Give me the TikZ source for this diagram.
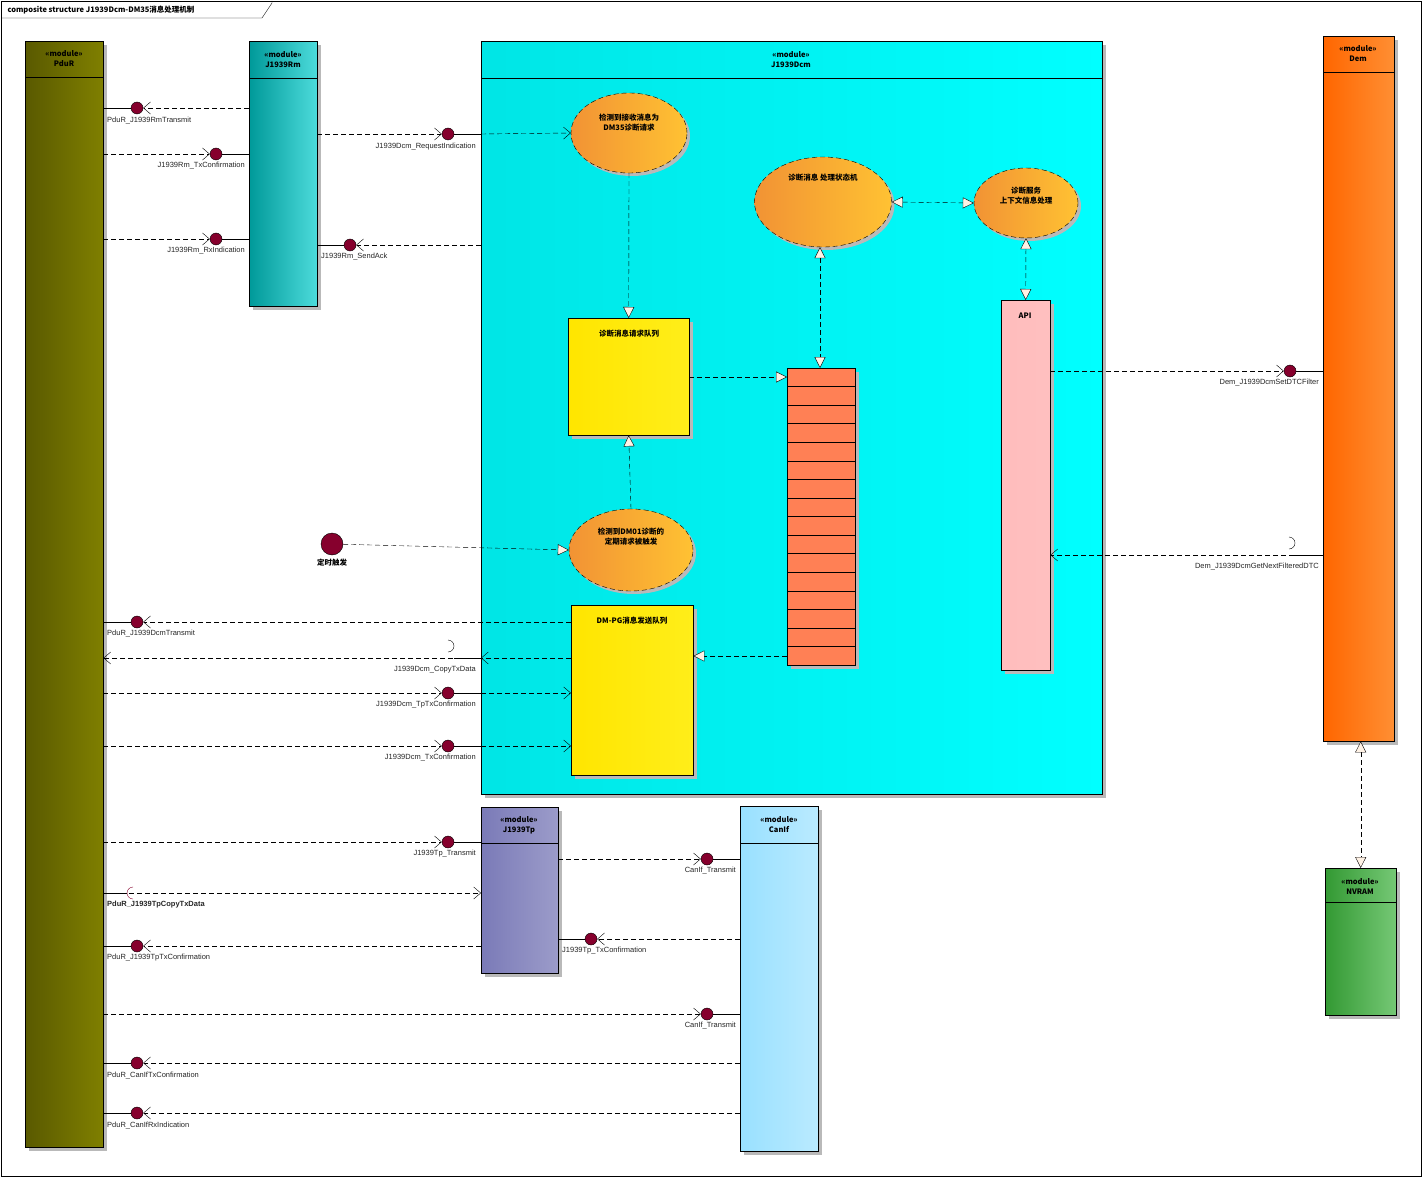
\documentclass[tikz,border=0pt]{standalone}
\usepackage{fontspec}
\setmainfont{Liberation Sans}
\newfontfamily\cjk{Noto Sans CJK SC}
\usetikzlibrary{arrows.meta,shadows,shapes.geometric}
\begin{document}
\begin{tikzpicture}[x=1pt,y=-1pt,font=\fontsize{7.5}{9}\selectfont,
 mod/.style={draw=black,anchor=north west,inner sep=0,general shadow={fill=gray!55,shadow xshift=4pt,shadow yshift=-4pt}},
 ball/.style={circle,draw=black,fill=purple!70!black,minimum size=12pt,inner sep=0},
 lbl/.style={inner sep=1pt,text=black!85},
 dsh/.style={dash pattern=on 5pt off 3pt},
 va/.style={dsh,-{Straight Barb[length=7pt,width=12pt]}},
 ta/.style={dsh,-{Triangle[open,length=11pt,width=11pt,fill=white!90!orange]}},
 tb/.style={dsh,{Triangle[open,length=11pt,width=11pt,fill=white!90!orange]}-{Triangle[open,length=11pt,width=11pt,fill=white!90!orange]}},
 ell/.style={ellipse,draw=black,dsh,left color=orange!75!brown!85,right color=orange!60!yellow!80,general shadow={fill=gray!55,shadow xshift=3pt,shadow yshift=-3pt}},
 ttl/.style={font=\cjk\bfseries\fontsize{7.5}{10}\selectfont,align=center}]
\useasboundingbox (0,0) rectangle (1422,1177);
\fill[white] (0,0) rectangle (1422,1177);
\draw (1,1) rectangle (1421,1176);
\draw (1,18) -- (262,18) -- (272,3) -- (272,1);
\node[anchor=west,font=\cjk\bfseries\fontsize{7.5}{9}\selectfont] (title) at (4,10) {composite structure J1939Dcm-DM35消息处理机制};

% modules
\node[mod,left color=olive!70!black,right color=olive,minimum width=78pt,minimum height=1106pt] (pdur) at (25,41) {};
\draw (25,77) -- (103,77);
\node[ttl] at (64,59) {«module»\\PduR};

\node[mod,left color=teal!80!cyan,right color=cyan!60!teal!70!white,minimum width=68pt,minimum height=265pt] (rm) at (249,41) {};
\draw (249,78) -- (317,78);
\node[ttl] at (283,60) {«module»\\J1939Rm};

\node[mod,left color=cyan!90!black,right color=cyan,minimum width=621pt,minimum height=753pt] (dcm) at (481,41) {};
\draw (481,78) -- (1102,78);
\node[ttl] at (791,60) {«module»\\J1939Dcm};

\node[mod,left color=orange!80!red,right color=orange!90!red!80,minimum width=71pt,minimum height=705pt] (dem) at (1323,36) {};
\draw (1323,72) -- (1394,72);
\node[ttl] at (1358,54) {«module»\\Dem};

\node[mod,left color=green!50!black!80,right color=green!60!black!60!white!90,minimum width=71pt,minimum height=147pt] (nv) at (1325,868) {};
\draw (1325,902) -- (1396,902);
\node[ttl] at (1360,886) {«module»\\NVRAM};

\node[mod,left color=blue!30!gray!80,right color=blue!30!gray!60,minimum width=77pt,minimum height=166pt] (tp) at (481,807) {};
\draw (481,843) -- (558,843);
\node[ttl] at (519,825) {«module»\\J1939Tp};

\node[mod,left color=blue!30!cyan!40,right color=blue!30!cyan!30!white!90,minimum width=78pt,minimum height=345pt] (canif) at (740,806) {};
\draw (740,843) -- (818,843);
\node[ttl] at (779,825) {«module»\\CanIf};

% inner parts
\node[ell,minimum width=116pt,minimum height=80pt] (e1) at (629,133) {};
\node[ttl] at (629,123) {检测到接收消息为\\DM35诊断请求};
\node[ell,minimum width=137pt,minimum height=90pt] (e2) at (823,202) {};
\node[ttl] at (823,178) {诊断消息 处理状态机};
\node[ell,minimum width=104pt,minimum height=70pt] (e3) at (1026,203) {};
\node[ttl] at (1026,196) {诊断服务\\上下文信息处理};
\node[ell,minimum width=124pt,minimum height=82pt] (e4) at (631,550) {};
\node[ttl] at (631,537) {检测到DM01诊断的\\定期请求被触发};

\node[mod,left color=yellow!80!orange,right color=yellow!85!orange!90,minimum width=121pt,minimum height=117pt] (rq) at (568,318) {};
\node[ttl] at (629,334) {诊断消息请求队列};
\node[mod,left color=yellow!80!orange,right color=yellow!85!orange!90,minimum width=122pt,minimum height=170pt] (tq) at (571,605) {};
\node[ttl] at (632,621) {DM-PG消息发送队列};

\node[mod,fill=red!50!orange!70!white!95,minimum width=68pt,minimum height=297pt] (buf) at (787,368) {};
\foreach \i in {1,...,15} \draw (787,368+\i*18.56) -- (855,368+\i*18.56);

\node[mod,left color=pink!90!red!80,right color=pink,minimum width=49pt,minimum height=370pt] (api) at (1001,300) {};
\node[ttl] at (1025,316) {API};

\node[ball,minimum size=22pt] (tm) at (332,544) {};
\node[ttl,anchor=north] at (332,555) {定时触发};

% inner connectors
\draw[ta] (e1.south) -- (rq.north);
\draw[ta] (e4.north) -- (rq.south);
\draw[ta] (rq.east |- 0,377) -- (buf.west |- 0,377);
\draw[tb] (e2.south -| 820,0) -- (buf.north -| 820,0);
\draw[tb] (e2.east) -- (e3.west);
\draw[tb] (e3.south) -- (api.north);
\draw[ta] (buf.west |- 0,656) -- (tq.east |- 0,656);
\draw[ta] (tm) -- (e4.west);
\draw[tb] (dem.south -| nv.north) -- (nv.north);

% provided interfaces
\node[ball] (b1) at (137,108) {};
\draw (pdur.east |- b1) -- (b1); \draw[va] (rm.west |- b1) -- (b1);
\node[lbl,anchor=north west] at (106,116) {PduR\_J1939RmTransmit};

\node[ball] (b2) at (216,154) {};
\draw (b2) -- (rm.west |- b2); \draw[va] (pdur.east |- b2) -- (b2);
\node[lbl,anchor=north east] at (246,161) {J1939Rm\_TxConfirmation};

\node[ball] (b3) at (216,239) {};
\draw (b3) -- (rm.west |- b3); \draw[va] (pdur.east |- b3) -- (b3);
\node[lbl,anchor=north east] at (246,246) {J1939Rm\_RxIndication};

\node[ball] (b4) at (448,134) {};
\draw (b4) -- (dcm.west |- b4); \draw[va] (rm.east |- b4) -- (b4);
\draw[va] (dcm.west |- b4) -- (e1.west);
\node[lbl,anchor=north east] at (477,142) {J1939Dcm\_RequestIndication};

\node[ball] (b5) at (350,245) {};
\draw (rm.east |- b5) -- (b5); \draw[va] (dcm.west |- b5) -- (b5);
\node[lbl,anchor=north west] at (320,252) {J1939Rm\_SendAck};

\node[ball] (b6) at (1290,371) {};
\draw (b6) -- (dem.west |- b6); \draw[va] (api.east |- b6) -- (b6);
\node[lbl,anchor=north east] at (1320,378) {Dem\_J1939DcmSetDTCFilter};

\coordinate (s1) at (1290,555);
\draw (s1) -- (dem.west |- s1);
\draw (1289,549) arc (90:-90:6);
\draw[va] (1294,555) -- (api.east |- s1);
\node[lbl,anchor=north east] at (1320,562) {Dem\_J1939DcmGetNextFilteredDTC};

\node[ball] (b7) at (137,622) {};
\draw (pdur.east |- b7) -- (b7); \draw[va] (tq.west |- b7) -- (b7);
\node[lbl,anchor=north west] at (106,629) {PduR\_J1939DcmTransmit};

\coordinate (s2) at (448,658);
\draw (454,658) -- (dcm.west |- s2);
\draw (448,652) arc (90:-90:6);
\draw[va] (453,658) -- (pdur.east |- s2);
\draw[va] (tq.west |- s2) -- (dcm.west |- s2);
\node[lbl,anchor=north east] at (477,665) {J1939Dcm\_CopyTxData};

\node[ball] (b8) at (448,693) {};
\draw (b8) -- (dcm.west |- b8); \draw[va] (pdur.east |- b8) -- (b8);
\draw[va] (dcm.west |- b8) -- (tq.west |- b8);
\node[lbl,anchor=north east] at (477,700) {J1939Dcm\_TpTxConfirmation};

\node[ball] (b9) at (448,746) {};
\draw (b9) -- (dcm.west |- b9); \draw[va] (pdur.east |- b9) -- (b9);
\draw[va] (dcm.west |- b9) -- (tq.west |- b9);
\node[lbl,anchor=north east] at (477,753) {J1939Dcm\_TxConfirmation};

\node[ball] (b10) at (448,842) {};
\draw (b10) -- (tp.west |- b10); \draw[va] (pdur.east |- b10) -- (b10);
\node[lbl,anchor=north east] at (477,849) {J1939Tp\_Transmit};

\coordinate (s3) at (133,893);
\draw (pdur.east |- s3) -- (127,893);
\draw[purple!70!black] (133,887) arc (-90:-270:6);
\draw[va] (129,893) -- (tp.west |- s3);
\node[lbl,anchor=north west,font=\bfseries\fontsize{7.5}{9}\selectfont] at (106,900) {PduR\_J1939TpCopyTxData};

\node[ball] (b11) at (137,946) {};
\draw (pdur.east |- b11) -- (b11); \draw[va] (tp.west |- b11) -- (b11);
\node[lbl,anchor=north west] at (106,953) {PduR\_J1939TpTxConfirmation};

\node[ball] (b12) at (707,859) {};
\draw (b12) -- (canif.west |- b12); \draw[va] (tp.east |- b12) -- (b12);
\node[lbl,anchor=north east] at (737,866) {CanIf\_Transmit};

\node[ball] (b13) at (591,939) {};
\draw (tp.east |- b13) -- (b13); \draw[va] (canif.west |- b13) -- (b13);
\node[lbl,anchor=north west] at (561,946) {J1939Tp\_TxConfirmation};

\node[ball] (b14) at (707,1014) {};
\draw (b14) -- (canif.west |- b14); \draw[va] (pdur.east |- b14) -- (b14);
\node[lbl,anchor=north east] at (737,1021) {CanIf\_Transmit};

\node[ball] (b15) at (137,1063) {};
\draw (pdur.east |- b15) -- (b15); \draw[va] (canif.west |- b15) -- (b15);
\node[lbl,anchor=north west] at (106,1071) {PduR\_CanIfTxConfirmation};

\node[ball] (b16) at (137,1113) {};
\draw (pdur.east |- b16) -- (b16); \draw[va] (canif.west |- b16) -- (b16);
\node[lbl,anchor=north west] at (106,1121) {PduR\_CanIfRxIndication};
\end{tikzpicture}
\end{document}
